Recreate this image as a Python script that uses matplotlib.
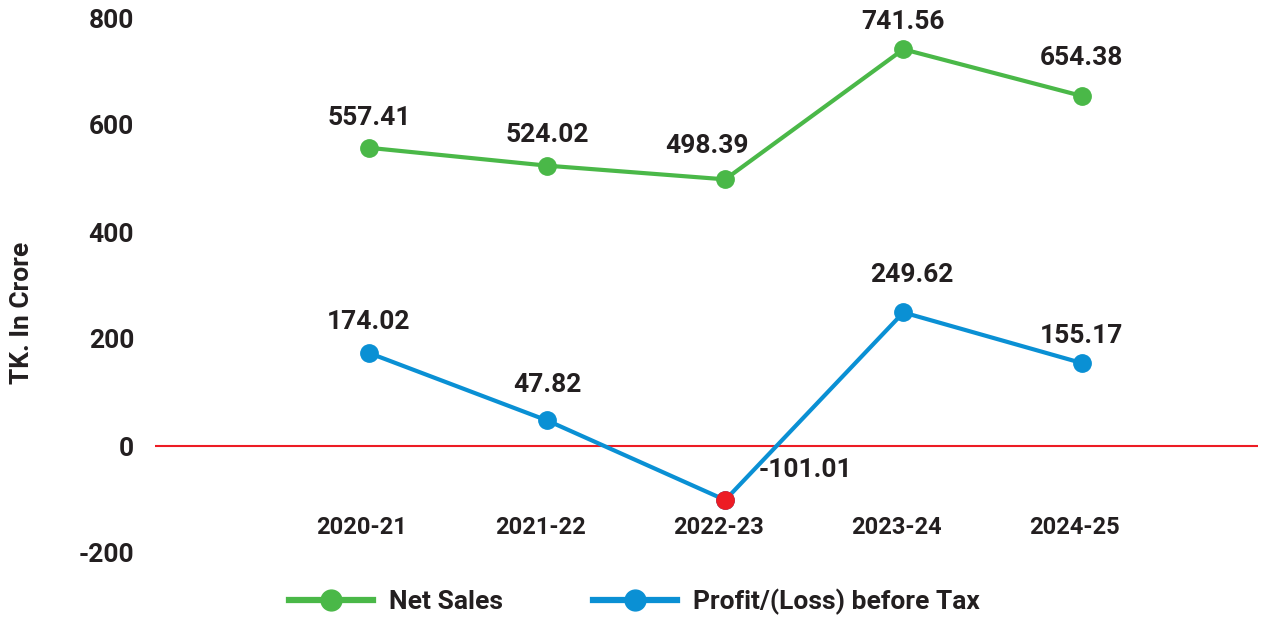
import matplotlib
matplotlib.use("Agg")
import matplotlib.pyplot as plt
from matplotlib.lines import Line2D

# ── Data ─────────────────────────────────────────────────────────────────────
years      = ["2020-21", "2021-22", "2022-23", "2023-24", "2024-25"]
net_sales  = [557.41, 524.02, 498.39, 741.56, 654.38]
profit_bt  = [174.02, 47.82, -101.01, 249.62, 155.17]
y_ticks    = [-200, 0, 200, 400, 600, 800]

# label offsets (pixels) relative to each point
sales_off  = [(0, 30), (0, 31), (-18, 33), (0, 27), (0, 38)]
profit_off = [(0, 31), (0, 35), (80, 30), (8, 37), (0, 27)]

GREEN = "#4ab848"
BLUE  = "#0a90d4"
RED   = "#ed1c24"
TEXT  = "#231f20"

plt.rcParams["font.family"] = ["Roboto", "DejaVu Sans"]
plt.rcParams["font.weight"] = "bold"

fig = plt.figure(figsize=(12.63, 6.22), dpi=100)
ax = fig.add_axes([155 / 1263, (622 - 553) / 622, 1103 / 1263, 535 / 622])

x = list(range(len(years)))

ax.axhline(0, color=RED, linewidth=1.5, zorder=1)

ax.plot(x, net_sales, color=GREEN, linewidth=3, marker="o", markersize=12.5,
        zorder=3, clip_on=False)
ax.plot(x, profit_bt, color=BLUE, linewidth=3, marker="o", markersize=12.5,
        zorder=3, clip_on=False)

# negative point highlighted in red
for xi, v in zip(x, profit_bt):
    if v < 0:
        ax.plot([xi], [v], marker="o", markersize=12.5, color=RED,
                linestyle="none", zorder=4)

for xi, v, off in zip(x, net_sales, sales_off):
    ax.annotate(f"{v:.2f}", (xi, v), xytext=off, textcoords="offset pixels",
                ha="center", va="center", fontsize=19, fontweight="bold",
                color=TEXT)
for xi, v, off in zip(x, profit_bt, profit_off):
    ax.annotate(f"{v:.2f}", (xi, v), xytext=off, textcoords="offset pixels",
                ha="center", va="center", fontsize=19, fontweight="bold",
                color=TEXT)

# category labels sit inside the plot, between 0 and -200
for xi, yr in zip(x, years):
    ax.annotate(yr, (xi, -153), xytext=(-7, 0), textcoords="offset pixels",
                ha="center", va="center", fontsize=17, fontweight="bold",
                color=TEXT)

ax.set_xlim(-1.2, 4.99)
ax.set_ylim(-200, 800)
ax.set_xticks([])
ax.set_yticks(y_ticks)
ax.set_yticklabels([str(t) for t in y_ticks], fontsize=19, fontweight="bold",
                   color=TEXT)
ax.tick_params(axis="y", length=0, pad=15)
for s in ax.spines.values():
    s.set_visible(False)

fig.text(22 / 1263, 1 - 313 / 622, "TK. In Crore", rotation=90, ha="center",
         va="center", fontsize=19, fontweight="bold", color=TEXT)

handles = [
    Line2D([], [], color=GREEN, linewidth=4.5, marker="o", markersize=15),
    Line2D([], [], color=BLUE, linewidth=4.5, marker="o", markersize=15),
]
fig.legend(handles, ["Net Sales", "Profit/(Loss) before Tax"], loc="center",
           bbox_to_anchor=(0.502, (622 - 602) / 622), ncol=2, frameon=False,
           prop={"size": 19, "weight": "bold"}, handlelength=3.2,
           handletextpad=0.6, columnspacing=3.4, labelcolor=TEXT)

fig.savefig("out.png", dpi=100)
